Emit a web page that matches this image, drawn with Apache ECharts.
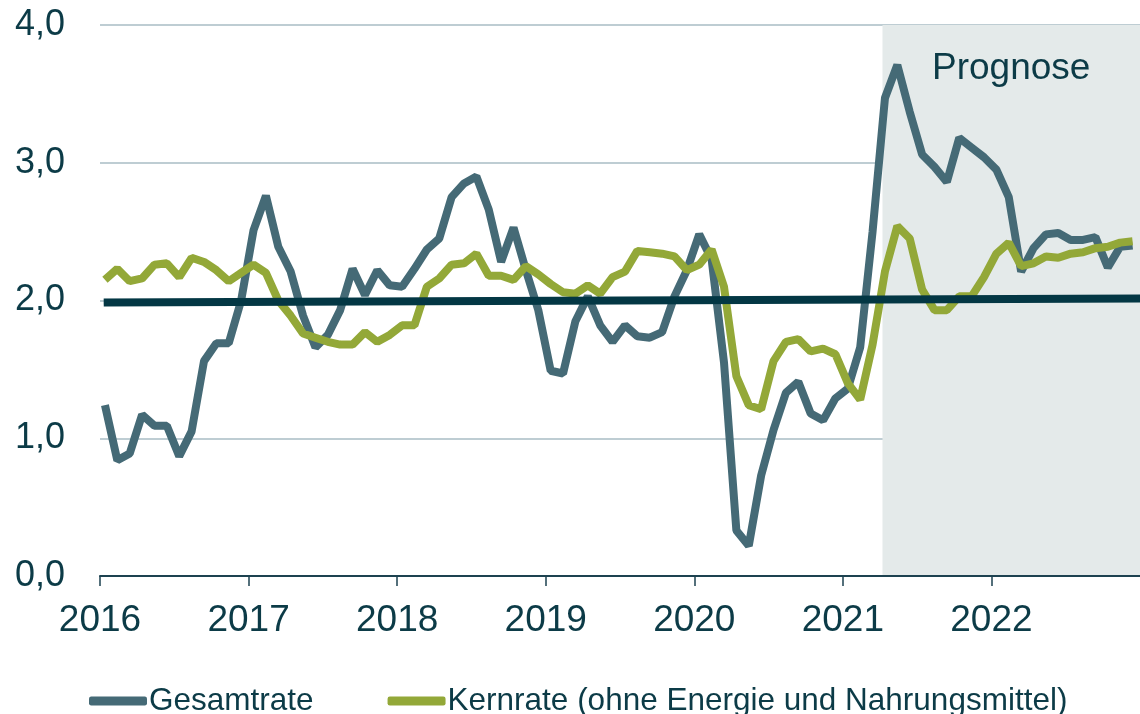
<!DOCTYPE html>
<html>
<head>
<meta charset="utf-8">
<script src="https://cdn.jsdelivr.net/npm/echarts@6/dist/echarts.min.js"></script>
<style>
  html, body { margin: 0; padding: 0; background: #fff; }
  #main { width: 1140px; height: 714px; }
</style>
</head>
<body>
<div id="main"></div>
<script>
// Monate Jan 2016 - Dez 2022
var years = [2016, 2017, 2018, 2019, 2020, 2021, 2022];
var months = [];
years.forEach(function (y) {
    for (var m = 1; m <= 12; m++) months.push(y + '-' + (m < 10 ? '0' + m : m));
});

// Inflationsrate in %
var gesamtrate = [
    1.24, 0.84, 0.89, 1.17, 1.09, 1.09, 0.87, 1.05, 1.56, 1.69, 1.69, 2.00,
    2.51, 2.76, 2.39, 2.21, 1.89, 1.66, 1.75, 1.93, 2.23, 2.04, 2.22, 2.11,
    2.10, 2.23, 2.37, 2.45, 2.75, 2.85, 2.90, 2.66, 2.28, 2.53, 2.22, 1.93,
    1.49, 1.47, 1.85, 2.03, 1.82, 1.70, 1.82, 1.74, 1.73, 1.77, 2.03, 2.22,
    2.48, 2.30, 1.55, 0.33, 0.22, 0.73, 1.06, 1.33, 1.41, 1.18, 1.13, 1.29,
    1.36, 1.66, 2.50, 3.47, 3.71, 3.37, 3.06, 2.97, 2.86, 3.18, 3.11, 3.04,
    2.95, 2.75, 2.21, 2.38, 2.48, 2.49, 2.44, 2.44, 2.46, 2.24, 2.39, 2.40
];
var kernrate = [
    2.15, 2.23, 2.14, 2.16, 2.26, 2.27, 2.17, 2.31, 2.28, 2.22, 2.14, 2.20,
    2.26, 2.20, 2.00, 1.89, 1.76, 1.73, 1.70, 1.68, 1.68, 1.77, 1.70, 1.75,
    1.82, 1.82, 2.10, 2.16, 2.26, 2.27, 2.34, 2.18, 2.18, 2.15, 2.25, 2.19,
    2.12, 2.06, 2.05, 2.11, 2.05, 2.17, 2.21, 2.36, 2.35, 2.34, 2.32, 2.22,
    2.26, 2.37, 2.10, 1.45, 1.24, 1.21, 1.56, 1.70, 1.72, 1.63, 1.65, 1.61,
    1.40, 1.28, 1.68, 2.21, 2.54, 2.45, 2.08, 1.93, 1.93, 2.03, 2.03, 2.17,
    2.34, 2.42, 2.25, 2.27, 2.32, 2.31, 2.34, 2.35, 2.38, 2.39, 2.42, 2.43
];
var zielLinie = [1.985, 2.015];       // Inflationsziel ~2 %
var prognoseStart = '2021-04';

var yTicks = [0, 1, 2, 3, 4];

var textColor = '#0c3b47';
var myChart = echarts.init(document.getElementById('main'));

// Monatsindex -> Position auf der x-Achse (Monatsmitte)
function pos(i) { return i + 0.4; }

var option = {
    animation: false,
    textStyle: { fontFamily: 'Liberation Sans, Arial, sans-serif' },
    grid: { left: 100, right: 0, top: 25, bottom: 138 },
    legend: {
        data: ['Gesamtrate', 'Kernrate (ohne Energie und Nahrungsmittel)'],
        left: 84,
        top: 680,
        icon: 'roundRect',
        itemWidth: 58,
        itemHeight: 9,
        itemGap: 74,
        textStyle: { fontSize: 31.5, color: textColor, padding: [0, 0, 0, -3] }
    },
    xAxis: {
        type: 'value',
        min: 0,
        max: months.length,
        interval: 12,
        z: 5,
        axisLine: { lineStyle: { color: '#1d4250', width: 2 } },
        axisTick: { show: true, length: 10, lineStyle: { color: '#1d4250', width: 1.5 } },
        splitLine: { show: false },
        axisLabel: {
            fontSize: 37,
            color: textColor,
            margin: 26,
            showMaxLabel: false,
            formatter: function (v) { return String(years[0] + v / 12); }
        }
    },
    yAxis: {
        type: 'value',
        min: yTicks[0],
        max: yTicks[yTicks.length - 1],
        interval: 1,
        axisLine: { show: false },
        axisTick: { show: false },
        splitLine: { lineStyle: { color: '#a9bdc4', width: 1.5 } },
        axisLabel: {
            fontSize: 36,
            color: textColor,
            margin: 35,
            formatter: function (v) { return v.toFixed(1).replace('.', ','); }
        }
    },
    series: [
        {
            name: 'prognose',
            type: 'line',
            data: [],
            z: 1,
            silent: true,
            markArea: {
                silent: true,
                itemStyle: { color: '#e4eaea' },
                label: {
                    show: true,
                    position: 'insideTop',
                    distance: 25,
                    fontSize: 37,
                    color: textColor
                },
                data: [[
                    { name: 'Prognose', xAxis: months.indexOf(prognoseStart) + 0.2 },
                    { xAxis: months.length }
                ]]
            }
        },
        {
            name: 'Gesamtrate',
            type: 'line',
            symbol: 'none',
            color: '#456a76',
            lineStyle: { width: 8, color: '#456a76' },
            data: gesamtrate.map(function (v, i) { return [pos(i), v]; })
        },
        {
            name: 'Kernrate (ohne Energie und Nahrungsmittel)',
            type: 'line',
            symbol: 'none',
            color: '#93a838',
            lineStyle: { width: 8, color: '#93a838' },
            data: kernrate.map(function (v, i) { return [pos(i), v]; })
        },
        {
            name: 'Ziel',
            type: 'line',
            symbol: 'none',
            z: 3,
            lineStyle: { width: 8, color: '#033744' },
            data: [[0.3, zielLinie[0]], [months.length, zielLinie[1]]]
        }
    ]
};

myChart.setOption(option);
</script>
</body>
</html>
